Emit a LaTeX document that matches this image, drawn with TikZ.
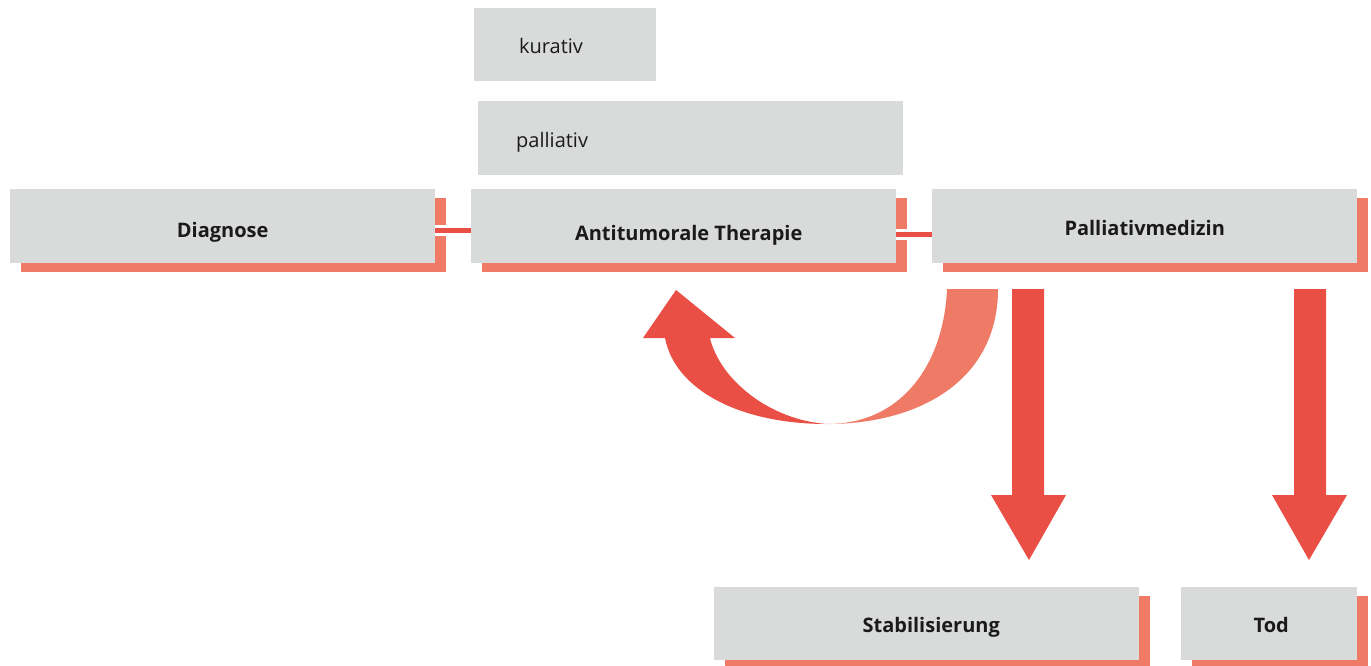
\documentclass[tikz,border=0pt]{standalone}
\usepackage{fontspec}
\setmainfont{Open Sans}
\usetikzlibrary{calc,shadows}
\definecolor{boxgray}{HTML}{D9DBDA}
\definecolor{shadowred}{HTML}{EF7B66}
\definecolor{darkred}{HTML}{E94F45}
\definecolor{txt}{HTML}{1A1A1A}
\begin{document}
\begin{tikzpicture}[x=1pt,y=-1pt,
  graybox/.style={fill=boxgray, draw=none, inner sep=0pt, anchor=north west,
     minimum height=74pt, text height=18pt, text depth=0pt, text=txt,
     font=\fontsize{20}{24}\selectfont\bfseries},
  shadowbox/.style={graybox, drop shadow={shadow xshift=11pt, shadow yshift=-9pt, opacity=1, fill=shadowred}},
  plainlbl/.style={inner sep=0pt, anchor=base west, text=txt, font=\fontsize{20}{24}\selectfont},
  linkwhite/.style={draw=white, line width=11pt},
  linkred/.style={draw=darkred, line width=5pt},
  bigarrow/.style={fill=darkred, draw=none},
  lightarrow/.style={fill=shadowred, draw=none}]
\useasboundingbox (0,0) rectangle (1371,665);

% top boxes
\node[graybox, minimum width=182pt, minimum height=73pt] (kur) at (474,8) {};
\node[plainlbl] (kurtxt) at ($(kur.west)+(45,9)$) {kurativ};
\node[graybox, minimum width=425pt] (pal) at (478,101) {};
\node[plainlbl] (paltxt) at ($(pal.west)+(38,9)$) {palliativ};

% main row
\node[shadowbox, minimum width=425pt] (diag) at (10,189) {\raisebox{-2pt}{Diagnose}};
\node[shadowbox, minimum width=425pt] (anti) at (471,189) {\hspace*{10pt}\raisebox{-5pt}{Antitumorale Therapie}};
\node[shadowbox, minimum width=425pt] (pmed) at (932,189) {Palliativmedizin};

% bottom row
\node[shadowbox, minimum width=425pt, minimum height=73pt] (stab) at (714,587) {\hspace*{9pt}Stabilisierung};
\node[shadowbox, minimum width=176pt, minimum height=73pt] (tod) at (1181,587) {\hspace*{4pt}Tod};

% connectors
\draw[linkwhite] (diag.east |- 0,230.5) -- (anti.west |- 0,230.5);
\draw[linkred] (diag.east |- 0,230.5) -- (anti.west |- 0,230.5);
\draw[linkwhite] (anti.east |- 0,234.5) -- (pmed.west |- 0,234.5);
\draw[linkred] (anti.east |- 0,234.5) -- (pmed.west |- 0,234.5);

% straight down arrows
\fill[bigarrow] (1012,289) -- (1044,289) -- (1044,495) -- (1066,495) -- (1029,560)
  -- (991,495) -- (1012,495) -- cycle;
\fill[bigarrow] (1294,289) -- (1326,289) -- (1326,495) -- (1347,495) -- (1309,560)
  -- (1272,495) -- (1294,495) -- cycle;

% curved return arrow
\fill[lightarrow] (947,289) -- (998,289) .. controls (998,380) and (920,424) .. (827,424)
  .. controls (905,424) and (944,360) .. (947,289) -- cycle;
\fill[bigarrow] (827,424) .. controls (740,424) and (675,390) .. (665,338)
  -- (643,338) -- (676,290) -- (735,338) -- (710,338)
  .. controls (720,380) and (770,420) .. (827,424) -- cycle;
\end{tikzpicture}
\end{document}
